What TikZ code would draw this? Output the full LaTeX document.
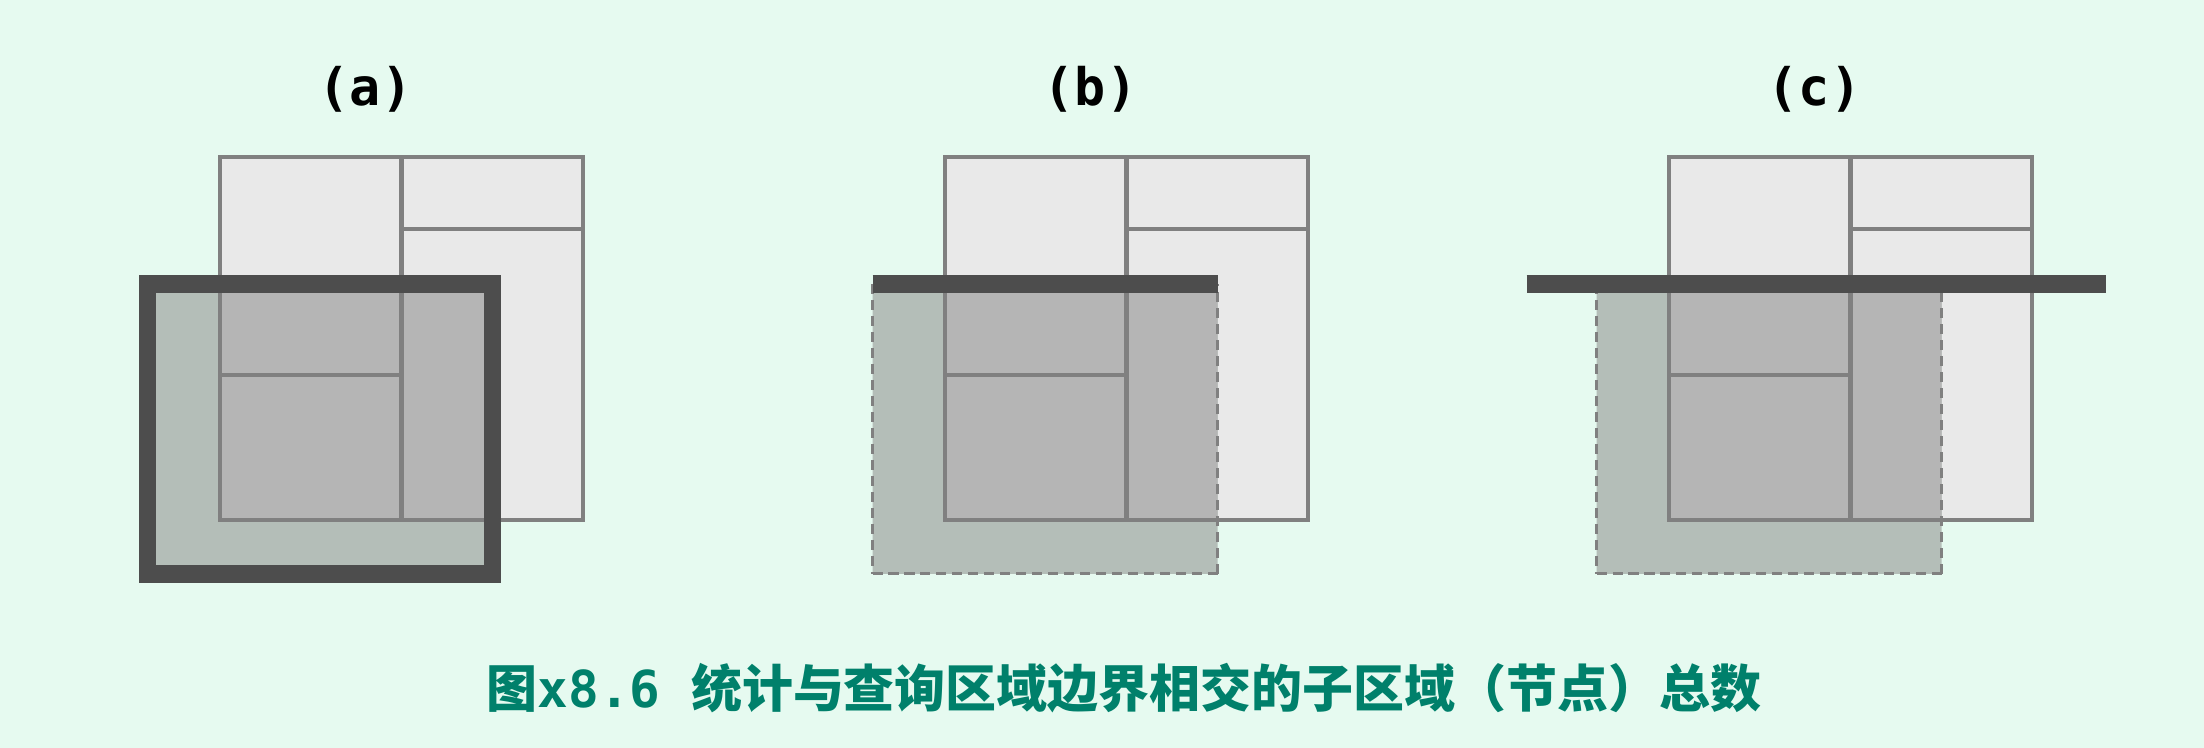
\documentclass[tikz,border=0pt]{standalone}
\usepackage{fontspec}
\setmonofont{DejaVu Sans Mono}
\newfontfamily\cjkfont{Noto Sans CJK SC}
\usepackage{tkz-euclide}
\definecolor{BgClr}{RGB}{230,250,240}
\definecolor{CellClr}{RGB}{233,233,233}
\definecolor{HitClr}{RGB}{181,181,181}
\definecolor{QueryClr}{RGB}{180,190,184}
\definecolor{LineClr}{RGB}{128,128,128}
\definecolor{EdgeClr}{RGB}{77,77,77}
\definecolor{TitleClr}{RGB}{0,128,107}

\begin{document}
\begin{tikzpicture}[line cap=butt,line join=miter]
\fill[BgClr] (0,0) rectangle (22.04,7.48);
\useasboundingbox (0,0) rectangle (22.04,7.48);

\foreach \s in {0,7.25,14.49}{
\begin{scope}[xshift=\s cm]
\tkzDefPoints{2.2/2.28/P,5.83/2.28/Q,5.83/5.91/R,2.2/5.91/S}
\tkzDefPoints{4.015/2.28/M,4.015/5.91/N,2.2/3.73/U,4.015/3.73/V,4.015/5.19/W,5.83/5.19/Z}
\tkzDefPoints{1.475/1.74/E,4.925/1.74/F,4.925/4.64/G,1.475/4.64/H}
\tkzFillPolygon[fill=CellClr](P,Q,R,S)
\tkzFillPolygon[fill=QueryClr](E,F,G,H)
\begin{scope}
\tkzClipPolygon(E,F,G,H)
\tkzFillPolygon[fill=HitClr](P,Q,R,S)
\end{scope}
\tkzDrawPolygon[line width=1.2pt,color=LineClr,line join=miter](P,Q,R,S)
\tkzDrawSegments[line width=1.2pt,color=LineClr,line cap=butt](M,N U,V W,Z)
\end{scope}
}

% (a)
\tkzDefPoints{1.475/1.74/A1,4.925/1.74/A2,4.925/4.64/A3,1.475/4.64/A4}
\tkzDrawPolygon[line width=5.1pt,color=EdgeClr,line join=miter](A1,A2,A3,A4)

% (b)
\tkzDefPoints{8.725/1.74/B1,12.175/1.74/B2,12.175/4.64/B3,8.725/4.64/B4}
\tkzDrawSegments[line width=0.85pt,color=LineClr,line cap=butt,dash pattern=on 2.85pt off 1.7pt](B4,B1 B1,B2 B2,B3)
\tkzDrawSegment[line width=5.1pt,color=EdgeClr,line cap=butt](B4,B3)

% (c)
\tkzDefPoints{15.965/1.74/C1,19.415/1.74/C2,19.415/4.64/C3,15.965/4.64/C4,15.265/4.64/L,21.06/4.64/R}
\tkzDrawSegments[line width=0.85pt,color=LineClr,line cap=butt,dash pattern=on 2.85pt off 1.7pt](C4,C1 C1,C2 C2,C3)
\tkzDrawSegment[line width=5.1pt,color=EdgeClr,line cap=butt](L,R)

\node[anchor=base,font=\ttfamily\bfseries\fontsize{14.7}{16}\selectfont] (lblA) at (3.655,6.42) {(a)};
\node[anchor=base,font=\ttfamily\bfseries\fontsize{14.7}{16}\selectfont] (lblB) at (10.905,6.42) {(b)};
\node[anchor=base,font=\ttfamily\bfseries\fontsize{14.7}{16}\selectfont] (lblC) at (18.145,6.42) {(c)};

\node[anchor=base,text=TitleClr,font=\ttfamily\bfseries\fontsize{14.5}{16}\selectfont] (title) at (11.24,0.40)
  {{\cjkfont 图}x8.6 {\cjkfont 统计与查询区域边界相交的子区域（节点）总数}};
\end{tikzpicture}
\end{document}
